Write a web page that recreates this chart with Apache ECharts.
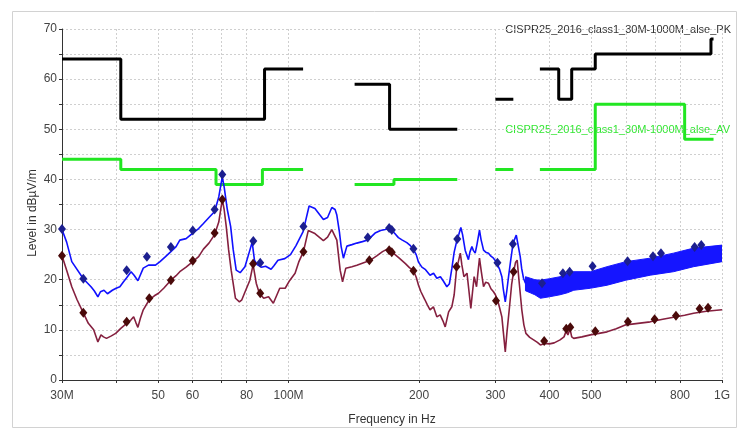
<!DOCTYPE html>
<html>
<head>
<meta charset="utf-8">
<script src="https://cdn.jsdelivr.net/npm/echarts@6/dist/echarts.min.js"></script>
<style>
html,body{margin:0;padding:0;background:#fff;}
#chart{width:744px;height:439px;}
</style>
</head>
<body>
<div id="chart"></div>
<script>
// ---------- data (frequency in MHz, level in dBuV/m) ----------
const tickValues = [30, 40, 50, 60, 70, 80, 100, 200, 300, 400, 500, 600, 700, 800, 1000];
const labelValues = [30, 50, 60, 80, 100, 200, 300, 400, 500, 800, 1000];
const labelTexts = {30: '30M', 100: '100M', 1000: '1G'};

const pkLimitName = 'CISPR25_2016_class1_30M-1000M_alse_PK';
const avLimitName = 'CISPR25_2016_class1_30M-1000M_alse_AV';

const pkFreq  = [30, 41, 41, 88, 88, 108, 108, 142, 171, 171, 245, 245, 300, 330, 330, 380, 420, 420, 450, 450, 510, 510, 943, 943, 956];
const pkLevel = [64, 64, 52, 52, 62, 62, null, 59, 59, 50, 50, null, 56, 56, null, 62, 62, 56, 56, 62, 62, 65, 65, 68, 68];

const avFreq  = [30, 41, 41, 68, 68, 87, 87, 108, 108, 142, 175, 175, 245, 245, 300, 330, 330, 380, 510, 510, 820, 820, 956];
const avLevel = [44, 44, 42, 42, 39, 39, 42, 42, null, 39, 39, 40, 40, null, 42, 42, null, 42, 42, 55, 55, 48, 48];

const peakFreq = [30, 30.75, 31.6, 33.6, 35, 35.6, 36.3, 36.8, 37.5, 38.2, 39.2, 40, 40.8, 41.6, 42.3, 43.3, 44, 44.9, 46.2, 47.5, 49.3, 50.5, 52, 53.5, 55, 56.1, 58, 60.1, 62, 63.6, 65.5, 67.5, 69, 70.3, 71, 72.2, 73.5, 74.5, 75.7, 77.3, 79.3, 81.4, 82.4, 83.4, 84.6, 86.5, 88.5, 91.1, 92.5, 94.5, 98, 101, 104, 108, 111.5, 115, 120.3, 123, 125.8, 128, 129.2, 131, 132.2, 133.8, 136.3, 140, 143.7, 148, 152.3, 158.3, 163, 167, 171.5, 175, 179.2, 183, 187.4, 191, 194.1, 197, 199.4, 203, 207, 212, 216, 219.8, 224, 227.7, 231.8, 235, 238, 241, 244, 247, 249.7, 252, 255.5, 258, 260, 262, 264.8, 267, 269.5, 272, 275.7, 278, 281.7, 285, 289.2, 293, 297, 300, 303.3, 307, 310.5, 313, 316.2, 319, 321.7, 325, 329.2, 332, 335.2, 338, 342.3, 345, 348.3, 352];
const peakLevel = [30.0, 27.5, 23.6, 20.2, 18.6, 17.8, 16.6, 17.6, 17.9, 17.2, 17.9, 18.3, 18.6, 19.6, 20.4, 21.6, 20.9, 19.8, 22.3, 22.9, 22.9, 23.6, 24.6, 25.6, 26.6, 27.9, 28.2, 29.3, 30.2, 31.2, 32.4, 33.6, 36.5, 40.5, 38.5, 34.0, 30.6, 26.0, 21.9, 21.4, 22.6, 25.9, 27.5, 23.9, 23.0, 22.5, 22.7, 22.1, 22.8, 23.9, 24.2, 25.0, 26.8, 29.6, 34.7, 34.2, 32.0, 32.4, 34.4, 34.0, 32.9, 29.5, 26.6, 24.3, 26.7, 27.0, 27.3, 27.6, 27.9, 29.3, 29.8, 30.0, 30.3, 29.4, 28.4, 27.9, 27.4, 26.8, 26.0, 25.0, 23.5, 22.5, 22.0, 20.9, 21.3, 20.3, 20.6, 19.7, 18.6, 19.2, 22.2, 25.5, 27.5, 29.0, 30.4, 29.0, 25.9, 24.8, 24.0, 25.5, 26.6, 25.8, 25.3, 27.0, 29.9, 28.0, 25.9, 25.5, 25.3, 24.7, 24.3, 23.8, 23.0, 22.0, 20.6, 18.0, 15.6, 18.0, 20.6, 23.5, 27.0, 28.0, 28.9, 27.2, 24.6, 22.2, 20.3, 19.3];

const bandFreq = [352, 361, 370, 381, 400, 423, 440, 455, 497, 543, 600, 683, 773, 860, 1000];
const bandLow  = [17.8, 17.4, 17.0, 16.3, 16.6, 17.0, 17.4, 17.9, 18.3, 18.9, 19.9, 20.9, 21.6, 22.6, 23.6];
const bandHigh = [20.6, 20.3, 20.0, 19.9, 20.2, 20.6, 21.4, 21.6, 21.6, 22.6, 23.6, 24.3, 25.3, 26.3, 26.9];

const avgFreq = [30, 30.75, 31.6, 32.5, 33.6, 34.5, 35.5, 36.3, 36.9, 37.4, 38, 39, 39.9, 41, 42.3, 43.3, 43.9, 44.4, 44.9, 45.5, 46.2, 47.7, 49, 50.1, 51.5, 53.5, 55, 56.1, 58, 60.1, 62, 63.6, 65.5, 67.5, 69, 70.3, 71, 71.8, 72.7, 73.7, 75.4, 77, 78, 79.1, 81.4, 82.8, 84.2, 85.6, 87.6, 89.9, 92.2, 95.4, 98.2, 100.5, 103.5, 105.5, 108.2, 111, 115, 120.3, 123, 125.8, 129.2, 131.5, 133.2, 135.5, 140, 143.7, 149, 154.5, 160, 164.7, 168, 171.5, 175, 180, 186, 190, 194.1, 197, 199.4, 202, 206.3, 209, 212, 215.8, 219.8, 223.7, 227, 229.8, 234, 238, 241, 244, 249, 251, 253.8, 258, 260.5, 263.3, 266, 268, 271.4, 273.5, 275.7, 278.5, 281.7, 285, 289.2, 293, 297, 300, 303.3, 307, 310.5, 313, 316.2, 319, 323.4, 327, 330.5, 334, 336.8, 340, 345.2, 349, 352.8, 360, 367.5, 375, 381, 390, 400, 410, 423, 432, 437, 441, 446, 450, 455, 475, 497, 520, 543, 570, 600, 640, 683, 730, 773, 820, 860, 920, 1000];
const avgLevel = [24.8, 21.9, 18.6, 16.0, 13.4, 11.3, 10.0, 7.6, 9.0, 8.6, 8.3, 8.8, 9.3, 10.3, 11.3, 12.0, 12.6, 11.5, 10.5, 12.3, 14.0, 16.0, 16.8, 17.3, 18.3, 19.9, 20.8, 21.6, 22.5, 23.6, 24.6, 26.1, 27.3, 29.0, 31.5, 36.0, 34.0, 30.6, 26.0, 21.9, 16.3, 15.6, 16.0, 17.3, 19.9, 23.0, 19.3, 17.3, 16.3, 16.6, 15.3, 18.3, 18.3, 19.8, 21.3, 23.5, 25.6, 29.8, 29.2, 27.8, 28.5, 30.0, 27.9, 21.9, 19.6, 22.3, 22.6, 22.9, 23.4, 23.9, 24.8, 25.6, 26.0, 25.9, 25.2, 24.3, 23.2, 22.4, 21.8, 20.5, 18.9, 17.6, 16.0, 15.0, 14.0, 14.6, 12.6, 13.0, 11.8, 10.6, 13.6, 14.6, 17.0, 22.0, 25.3, 23.0, 20.6, 21.3, 18.0, 14.3, 18.0, 20.6, 18.6, 21.5, 24.3, 21.5, 18.6, 19.5, 19.3, 18.2, 17.6, 17.0, 16.0, 14.3, 12.6, 9.5, 5.6, 9.5, 14.6, 19.0, 21.6, 23.5, 23.9, 20.0, 14.0, 11.0, 9.3, 8.5, 8.0, 7.5, 7.0, 7.3, 7.2, 7.4, 8.0, 8.6, 9.8, 9.0, 10.2, 8.6, 8.3, 8.6, 9.0, 9.3, 9.6, 10.2, 11.0, 11.3, 11.6, 12.1, 12.5, 12.9, 13.3, 13.7, 14.0];

const pkMarkFreq  = [30, 33.6, 42.3, 47.1, 53.5, 60.1, 67.5, 70.3, 82.9, 86, 108.2, 152.3, 170.6, 173, 194.1, 245, 303.3, 329.2, 384.4, 429.4, 445, 502.8, 605.5, 693, 723, 864.6, 895.8];
const pkMarkLevel = [30.1, 20.2, 21.9, 24.6, 26.5, 29.8, 34.0, 41.0, 27.7, 23.4, 30.6, 28.4, 30.3, 29.9, 26.2, 28.1, 23.4, 27.1, 19.3, 21.3, 21.6, 22.7, 23.7, 24.7, 25.3, 26.5, 26.9];

const avMarkFreq  = [30, 33.6, 42.3, 47.7, 53.5, 60.1, 67.5, 70.3, 82.8, 86, 108.2, 153.6, 170.6, 173, 194.1, 244, 301, 330.5, 388.8, 437.2, 446.6, 510, 606.6, 699, 783, 888, 928.5];
const avMarkLevel = [24.8, 13.4, 11.6, 16.3, 19.9, 23.8, 29.3, 36.0, 23.2, 17.3, 25.6, 23.9, 25.9, 25.5, 21.8, 22.6, 15.8, 21.6, 7.8, 10.2, 10.5, 9.7, 11.6, 12.1, 12.8, 14.2, 14.4];

// ---------- helpers ----------
function pairs(xs, ys) {
  return xs.map((x, i) => [x, ys[i] === null ? '-' : ys[i]]);
}

const FONT = "'Liberation Sans', Arial, sans-serif";
const chart = echarts.init(document.getElementById('chart'), null, {renderer: 'canvas'});

function renderBand(params, api) {
  const pts = [];
  for (let i = 0; i < bandFreq.length; i++) pts.push(api.coord([bandFreq[i], bandHigh[i]]));
  for (let i = bandFreq.length - 1; i >= 0; i--) pts.push(api.coord([bandFreq[i], bandLow[i]]));
  return {type: 'polygon', shape: {points: pts}, style: {fill: '#1515ff', stroke: '#1515ff', lineWidth: 1}};
}

const option = {
  animation: false,
  backgroundColor: '#ffffff',
  grid: {left: 62, right: 22, top: 29, bottom: 59, containLabel: false},
  xAxis: {
    type: 'log',
    logBase: 10,
    min: 30,
    max: 1000,
    name: 'Frequency in Hz',
    nameLocation: 'middle',
    nameGap: 34,
    nameTextStyle: {fontFamily: FONT, fontSize: 12, color: '#333'},
    axisLine: {show: true, lineStyle: {color: '#333', width: 1}},
    axisTick: {show: true, length: 3, inside: false, lineStyle: {color: '#333'}, customValues: tickValues},
    axisLabel: {
      show: true, margin: 10, color: '#444', fontFamily: FONT, fontSize: 12,
      customValues: labelValues,
      formatter: v => labelTexts[Math.round(v)] || String(Math.round(v))
    },
    splitLine: {show: true, lineStyle: {color: '#cfcfcf', type: [2, 2], width: 1}},
    minorTick: {show: false},
    minorSplitLine: {show: false}
  },
  yAxis: {
    type: 'value',
    min: 0,
    max: 70,
    interval: 5,
    axisLine: {show: true, lineStyle: {color: '#333', width: 1}},
    axisTick: {show: true, length: 3, lineStyle: {color: '#333'}},
    axisLabel: {
      color: '#444', fontFamily: FONT, fontSize: 12, margin: 5,
      formatter: v => (v % 10 === 0 ? String(v) : '')
    },
    splitLine: {show: true, lineStyle: {color: '#cfcfcf', type: [2, 2], width: 1}}
  },
  graphic: [
    {type: 'rect', z: -10, silent: true,
     shape: {x: 12.5, y: 11.5, width: 724, height: 416},
     style: {fill: 'none', stroke: '#d2d2d2', lineWidth: 1}},
    {type: 'text', silent: true, x: 33, y: 213, rotation: Math.PI / 2,
     style: {text: 'Level in dBµV/m', fontFamily: FONT, fontSize: 12, fill: '#333', align: 'center', verticalAlign: 'middle'}},
    {type: 'text', silent: true, x: 731, y: 30,
     style: {text: pkLimitName, fontFamily: FONT, fontSize: 11, fill: '#333', align: 'right', verticalAlign: 'middle'}},
    {type: 'text', silent: true, x: 730, y: 130,
     style: {text: avLimitName, fontFamily: FONT, fontSize: 11, fill: '#33e633', align: 'right', verticalAlign: 'middle'}}
  ],
  series: [
    {name: pkLimitName, type: 'line', data: pairs(pkFreq, pkLevel), showSymbol: false, connectNulls: false,
     lineStyle: {color: '#000', width: 3}, z: 2},
    {name: avLimitName, type: 'line', data: pairs(avFreq, avLevel), showSymbol: false, connectNulls: false,
     lineStyle: {color: '#22e622', width: 3}, z: 2},
    {name: 'PeakBand', type: 'custom', coordinateSystem: 'cartesian2d', clip: true,
     data: pairs(bandFreq, bandHigh), renderItem: (p, api) => (p.dataIndex === 0 ? renderBand(p, api) : null), z: 3},
    {name: 'Peak', type: 'line', data: pairs(peakFreq, peakLevel), showSymbol: false,
     lineStyle: {color: '#1010ff', width: 1.6}, z: 4},
    {name: 'Average', type: 'line', data: pairs(avgFreq, avgLevel), showSymbol: false,
     lineStyle: {color: '#85203f', width: 1.6}, z: 4},
    {name: 'PeakMarks', type: 'scatter', data: pairs(pkMarkFreq, pkMarkLevel), symbol: 'diamond', symbolSize: [8, 10],
     itemStyle: {color: '#1c1f8f', opacity: 1}, z: 6},
    {name: 'AvMarks', type: 'scatter', data: pairs(avMarkFreq, avMarkLevel), symbol: 'diamond', symbolSize: [8, 10],
     itemStyle: {color: '#4a0a0a', opacity: 1}, z: 6}
  ]
};
chart.setOption(option);
</script>
</body>
</html>
